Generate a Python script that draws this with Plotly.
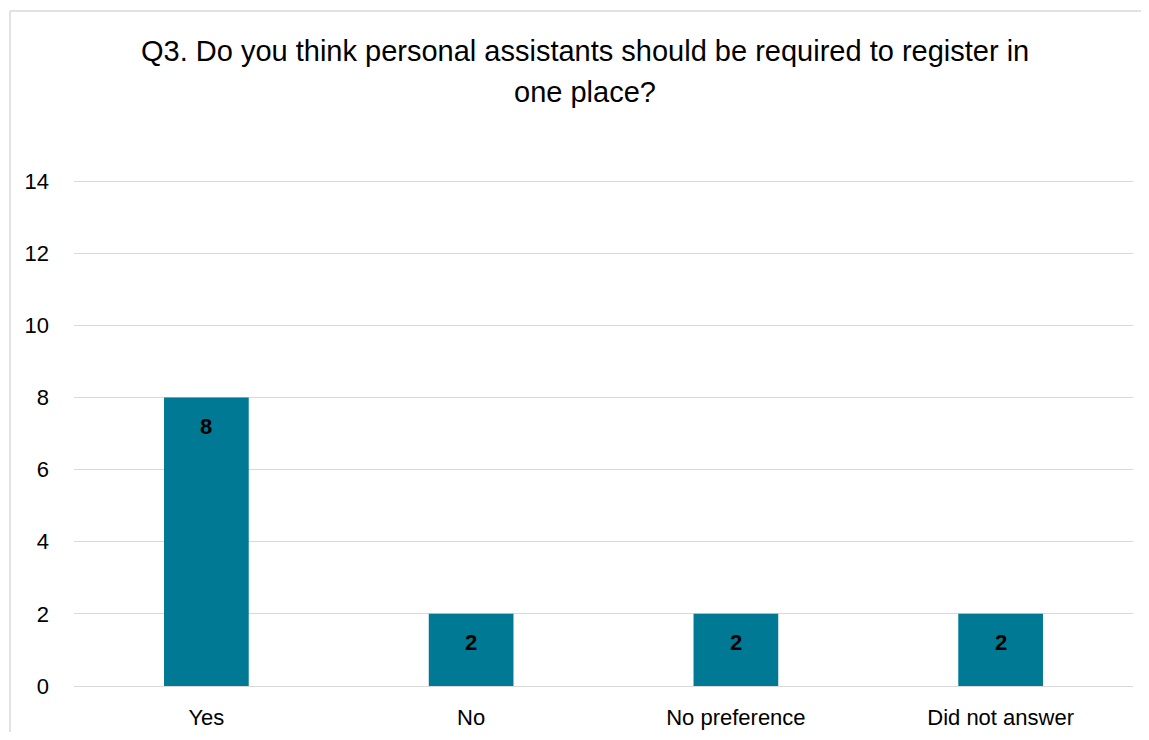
import plotly.graph_objects as go

categories = ["Yes", "No", "No preference", "Did not answer"]
values = [8, 2, 2, 2]
y_ticks = [0, 2, 4, 6, 8, 10, 12, 14]
title_lines = ["Q3. Do you think personal assistants should be required to register in",
               "one place?"]

BAR = "#007A94"
FONT = "Liberation Sans, Arial, sans-serif"
OFF = 8  # page body margin

fig = go.Figure()
fig.add_trace(go.Bar(x=categories, y=values, marker=dict(color=BAR, line=dict(width=0)),
                     width=0.32, hoverinfo="x+y"))

for c, v in zip(categories, values):
    fig.add_annotation(x=c, y=v, text=f"<b>{v}</b>", showarrow=False, yshift=-29,
                       font=dict(family=FONT, size=22, color="black"))

W, H = 1149 - 2 * OFF, 740 - 2 * OFF
l, t = 74 - OFF, 180 - OFF
r = W - (1133 - OFF)
b = H - (686 - OFF)
ph = H - t - b
pw = W - l - r

def py(pix):
    return (H - b - (pix - OFF)) / ph

def px(pix):
    return (pix - OFF - l) / pw

fig.add_annotation(x=px(585), y=py(33), xref="paper", yref="paper", text=title_lines[0],
                   showarrow=False, font=dict(family=FONT, size=29, color="black"))
fig.add_annotation(x=px(585), y=py(74), xref="paper", yref="paper", text=title_lines[1],
                   showarrow=False, font=dict(family=FONT, size=29, color="black"))

border = dict(color="#D9D9D9", width=1.5)
fig.add_shape(type="line", xref="paper", yref="paper", x0=px(10), x1=1.2, y0=py(11), y1=py(11),
              line=border, layer="above")
fig.add_shape(type="line", xref="paper", yref="paper", x0=px(10), x1=px(10), y0=-0.5, y1=py(11),
              line=border, layer="above")

fig.update_layout(
    width=W, height=H,
    margin=dict(l=l, r=r, t=t, b=b, autoexpand=False),
    plot_bgcolor="white", paper_bgcolor="white",
    showlegend=False,
    font=dict(family=FONT, size=22, color="black"),
)
fig.update_xaxes(showgrid=False, showline=False, ticks="", zeroline=False, automargin=False,
                 tickfont=dict(family=FONT, size=22, color="black"), ticklabelstandoff=16)
fig.update_yaxes(range=[0, 14.03], tickvals=y_ticks, showgrid=True, gridcolor="#D9D9D9", gridwidth=1,
                 zeroline=True, zerolinecolor="#D9D9D9", zerolinewidth=1, showline=False, ticks="",
                 automargin=False,
                 tickfont=dict(family=FONT, size=22, color="black"), ticklabelstandoff=24)

fig.write_html("out.html")
